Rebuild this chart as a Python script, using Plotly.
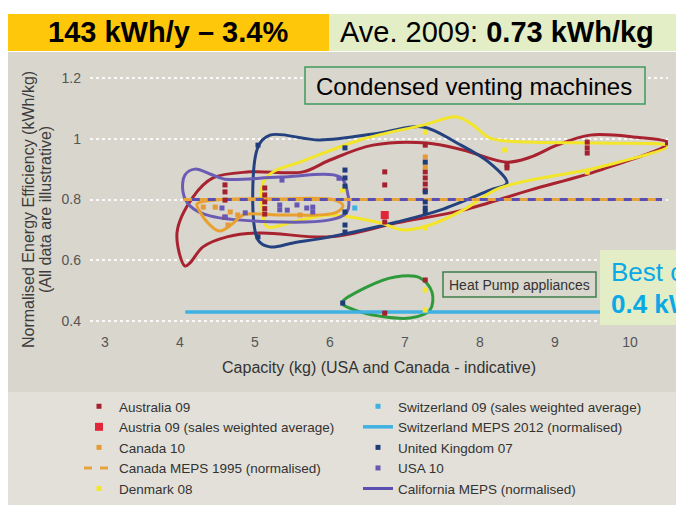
import plotly.graph_objects as go

# ---------------- data ----------------
# scatter points: capacity (kg) vs normalised energy efficiency (kWh/kg)
aus_x = [4.6, 4.6, 4.6, 4.6, 5.13, 5.13, 5.13, 5.13, 5.13, 6.73, 6.73, 6.73,
         7.27, 7.27, 7.27, 7.27, 7.27, 8.36, 8.36, 9.43, 9.43, 9.43, 10.5, 6.73, 7.27]
aus_y = [0.848, 0.825, 0.798, 0.742, 0.838, 0.815, 0.792, 0.770, 0.752, 0.891, 0.848, 0.726,
         0.979, 0.891, 0.871, 0.851, 0.831, 0.914, 0.904, 0.989, 0.970, 0.953, 0.986, 0.426, 0.535]

austria_x = [6.73]
austria_y = [0.749]

can_x = [4.31, 4.47, 4.67, 4.77, 4.64, 5.6, 7.27, 7.27]
can_y = [0.775, 0.775, 0.759, 0.749, 0.716, 0.749, 0.940, 0.907]

den_x = [7.27, 8.33, 6.17, 7.27, 9.43, 7.27, 7.27]
den_y = [1.022, 0.963, 0.831, 0.706, 0.890, 0.502, 0.436]

swi_x = [6.33]
swi_y = [0.772]

uk_x = [5.04, 5.04, 6.2, 6.2, 6.2, 6.2, 6.2, 6.2, 6.2, 7.27, 7.27, 7.27, 7.27, 7.27, 6.17]
uk_y = [0.979, 0.677, 0.970, 0.897, 0.871, 0.844, 0.759, 0.716, 0.693,
        0.923, 0.825, 0.792, 0.772, 0.759, 0.459]

usa_x = [5.36, 5.33, 5.33, 5.43, 5.56, 5.69, 5.77, 5.77, 6.12, 4.56, 4.87, 4.6]
usa_y = [0.864, 0.782, 0.766, 0.765, 0.782, 0.772, 0.775, 0.759, 0.870, 0.772, 0.756, 0.742]

# MEPS reference lines
swiss_meps_x = [4.07, 10.45]
swiss_meps_y = [0.43, 0.43]
canada_meps_x = [4.05, 10.43]
canada_meps_y = [0.80, 0.80]
calif_meps_x = [4.05, 10.43]
calif_meps_y = [0.80, 0.80]

# illustrative envelopes drawn around each data group
red_env_x = [4.067, 3.96, 4.173, 4.44, 4.933, 5.64, 6.0, 6.573, 7.293, 7.773, 8.36, 8.667, 9.027,
             9.467, 10.04, 10.507, 9.6, 8.667, 7.773, 6.893, 6.0, 5.067, 4.627, 4.307, 4.133, 4.067]
red_env_y = [0.581, 0.690, 0.808, 0.871, 0.891, 0.891, 0.930, 0.979, 0.986, 0.963, 0.923, 0.939, 0.979,
             1.012, 1.006, 0.986, 0.897, 0.831, 0.765, 0.723, 0.677, 0.690, 0.677, 0.644, 0.591, 0.581]

blue_env_x = [5.04, 5.04, 5.2, 5.867, 6.667, 7.24, 7.693, 8.133, 8.36, 8.133, 7.467, 6.893,
              6.0, 5.507, 5.2, 5.04]
blue_env_y = [0.667, 0.973, 1.012, 0.996, 1.019, 1.039, 0.986, 0.920, 0.854, 0.831, 0.765, 0.726,
              0.677, 0.657, 0.644, 0.667]

yellow_env_x = [5.12, 5.107, 5.24, 5.6, 6.4, 7.24, 7.693, 7.907, 8.133, 8.667, 9.6, 10.507, 9.6,
                8.267, 7.773, 7.333, 6.973, 6.667, 6.0, 5.507, 5.173, 5.12]
yellow_env_y = [0.730, 0.854, 0.891, 0.923, 0.996, 1.045, 1.072, 1.045, 1.002, 0.989, 0.986, 0.976,
                0.907, 0.838, 0.765, 0.716, 0.700, 0.723, 0.749, 0.726, 0.709, 0.730]

purple_env_x = [4.067, 4.2, 4.4, 4.6, 5.333, 6.133, 6.227, 6.227, 6.0, 4.4, 4.133, 4.04, 4.067]
purple_env_y = [0.881, 0.900, 0.884, 0.867, 0.874, 0.874, 0.831, 0.759, 0.733, 0.746, 0.779, 0.825, 0.881]

orange_env_x = [4.227, 4.467, 5.333, 6.067, 6.173, 6.067, 5.333, 4.84, 4.693, 4.533, 4.4, 4.267, 4.227]
orange_env_y = [0.785, 0.798, 0.802, 0.798, 0.779, 0.756, 0.749, 0.749, 0.719, 0.696, 0.716, 0.759, 0.785]

green_env_x = [6.16, 6.467, 6.867, 7.2, 7.36, 7.333, 7.067, 6.667, 6.333, 6.16]
green_env_y = [0.459, 0.509, 0.545, 0.542, 0.495, 0.436, 0.410, 0.416, 0.436, 0.459]

x_ticks = [3, 4, 5, 6, 7, 8, 9, 10]
x_tick_labels = ["3", "4", "5", "6", "7", "8", "9", "10"]
y_ticks = [0.4, 0.6, 0.8, 1.0, 1.2]
y_tick_labels = ["0.4", "0.6", "0.8", "1", "1.2"]

# ---------------- layout helpers ----------------
# the page body has an 8px margin, so the figure is placed at (8, 8) on screen
OFF = 8
W, H = 684 - OFF, 511 - OFF
S_LEFT, S_TOP, S_RIGHT, S_BOTTOM = 90, 60, 668, 332   # plot area in screen pixels
ML, MT = S_LEFT - OFF, S_TOP - OFF
MR, MB = 684 - S_RIGHT, 511 - S_BOTTOM
PW, PH = S_RIGHT - S_LEFT, S_BOTTOM - S_TOP


def px(sx):
    return (sx - S_LEFT) / PW


def py(sy):
    return (S_BOTTOM - sy) / PH


FONT = "Liberation Sans, Arial, Helvetica, sans-serif"
BG = "#d9d6cd"

C_AUS = "#a3202e"
C_AUSTRIA = "#e2263a"
C_CAN = "#e59a35"
C_DEN = "#f3e62c"
C_SWI = "#3fb1e3"
C_UK = "#1f3c78"
C_USA = "#6758b4"
C_GREEN = "#2f9a3c"

fig = go.Figure()


def envelope(xs, ys, color):
    fig.add_trace(go.Scatter(x=xs, y=ys, mode="lines", line=dict(color=color, width=3, shape="spline", smoothing=1.0),
                             showlegend=False, hoverinfo="skip"))


envelope(red_env_x, red_env_y, "#a8222f")
envelope(blue_env_x, blue_env_y, "#24427f")
envelope(yellow_env_x, yellow_env_y, "#f2e52a")
envelope(purple_env_x, purple_env_y, "#6a5bb5")
envelope(orange_env_x, orange_env_y, "#e8a02e")
envelope(green_env_x, green_env_y, C_GREEN)

# reference lines
fig.add_trace(go.Scatter(x=calif_meps_x, y=calif_meps_y, mode="lines", name="California MEPS (normalised)",
                         line=dict(color="#5a4fb0", width=3), legend="legend2", legendrank=5))
fig.add_trace(go.Scatter(x=canada_meps_x, y=canada_meps_y, mode="lines", name="Canada MEPS 1995 (normalised)",
                         line=dict(color="#e8a43a", width=3, dash="8px,8px"), legend="legend", legendrank=4))
fig.add_trace(go.Scatter(x=swiss_meps_x, y=swiss_meps_y, mode="lines", name="Switzerland MEPS 2012 (normalised)",
                         line=dict(color=C_SWI, width=3.5), legend="legend2", legendrank=2))


def points(xs, ys, name, color, leg, rank, size=5, symbol="square"):
    fig.add_trace(go.Scatter(x=xs, y=ys, mode="markers", name=name, legend=leg, legendrank=rank,
                             marker=dict(color=color, size=size, symbol=symbol, line=dict(width=0))))


points(aus_x, aus_y, "Australia 09", C_AUS, "legend", 1)
points(can_x, can_y, "Canada 10", C_CAN, "legend", 3)
points(den_x, den_y, "Denmark 08", C_DEN, "legend", 5)
points(swi_x, swi_y, "Switzerland 09 (sales weighted average)", C_SWI, "legend2", 1)
points(uk_x, uk_y, "United Kingdom 07", C_UK, "legend2", 3)
points(usa_x, usa_y, "USA 10", C_USA, "legend2", 4)
points(austria_x, austria_y, "Austria 09 (sales weighted average)", C_AUSTRIA, "legend", 2, size=8)

shapes = [
    dict(type="rect", xref="paper", yref="paper", x0=px(6), x1=px(700), y0=py(505), y1=py(52),
         fillcolor=BG, line=dict(width=0), layer="below"),
    dict(type="rect", xref="paper", yref="paper", x0=px(6), x1=px(700), y0=py(505), y1=py(392),
         fillcolor="#e2e0d8", line=dict(width=0), layer="below"),
    dict(type="rect", xref="paper", yref="paper", x0=px(6), x1=px(329), y0=py(51), y1=py(14),
         fillcolor="#ffc70a", line=dict(width=0), layer="below"),
    dict(type="rect", xref="paper", yref="paper", x0=px(329), x1=px(700), y0=py(51), y1=py(14),
         fillcolor="#e3eec6", line=dict(width=0), layer="below"),
    dict(type="rect", xref="paper", yref="paper", x0=px(305), x1=px(645), y0=py(104), y1=py(67),
         fillcolor=BG, line=dict(color="#3f9a5c", width=1.5), layer="above"),
    dict(type="rect", xref="paper", yref="paper", x0=px(443), x1=px(596), y0=py(297), y1=py(272),
         fillcolor=BG, line=dict(color="#3d7f4a", width=1.5), layer="above"),
    dict(type="rect", xref="paper", yref="paper", x0=px(600), x1=px(700), y0=py(325), y1=py(250),
         fillcolor="#e3eec6", line=dict(width=0), layer="above"),
]

annotations = [
    dict(text="<b>143 kWh/y – 3.4%</b>", x=px(168), y=py(32), xanchor="center", yanchor="middle",
         font=dict(size=29, color="#000000", family=FONT)),
    dict(text="Ave. 2009: <b>0.73 kWh/kg</b>", x=px(338), y=py(32), xanchor="left", yanchor="middle",
         font=dict(size=29, color="#000000", family=FONT)),
    dict(text="Condensed venting machines", x=px(314), y=py(86), xanchor="left", yanchor="middle",
         font=dict(size=24, color="#000000", family=FONT)),
    dict(text="Heat Pump appliances", x=px(519), y=py(285), xanchor="center", yanchor="middle",
         font=dict(size=14, color="#333333", family=FONT)),
    dict(text="Best case", x=px(609), y=py(272), xanchor="left", yanchor="middle",
         font=dict(size=26, color="#0aa9e6", family=FONT)),
    dict(text="<b>0.4 kWh/kg</b>", x=px(609), y=py(304), xanchor="left", yanchor="middle",
         font=dict(size=26, color="#0aa9e6", family=FONT)),
    dict(text="Normalised Energy Efficiency (kWh/kg)", x=px(28), y=py(210), xanchor="center", yanchor="middle",
         textangle=-90, font=dict(size=16, color="#3c3c3c", family=FONT)),
    dict(text="(All data are illustrative)", x=px(45), y=py(210), xanchor="center", yanchor="middle",
         textangle=-90, font=dict(size=16, color="#3c3c3c", family=FONT)),
]
for a in annotations:
    a.update(xref="paper", yref="paper", showarrow=False)

LEG_FONT = dict(size=13.5, color="#333333", family=FONT)
leg_top = 1 - (391 - OFF) / H

fig.update_layout(
    width=W, height=H,
    margin=dict(l=ML, r=MR, t=MT, b=MB, autoexpand=False),
    paper_bgcolor="white", plot_bgcolor="rgba(0,0,0,0)",
    font=dict(family=FONT, color="#333333"),
    shapes=shapes, annotations=annotations,
    showlegend=True,
    legend=dict(orientation="v", xref="container", yref="container", x=(79 - OFF) / W, y=leg_top,
                xanchor="left", yanchor="top", font=LEG_FONT, bgcolor="rgba(0,0,0,0)",
                traceorder="normal", tracegroupgap=0),
    legend2=dict(orientation="v", xref="container", yref="container", x=(358 - OFF) / W, y=leg_top,
                 xanchor="left", yanchor="top", font=LEG_FONT, bgcolor="rgba(0,0,0,0)",
                 traceorder="normal", tracegroupgap=0),
    xaxis=dict(range=[2.8, 10.507], tickvals=x_ticks, ticktext=x_tick_labels, showgrid=False,
               zeroline=False, showline=False, ticks="", fixedrange=True,
               tickfont=dict(size=14, color="#555555", family=FONT),
               title=dict(text="Capacity (kg) (USA and Canada - indicative)", standoff=12,
                          font=dict(size=16, color="#333333", family=FONT))),
    yaxis=dict(range=[0.3638, 1.2593], tickvals=y_ticks, ticktext=y_tick_labels, showgrid=True,
               gridcolor="rgba(255,255,255,0.85)", griddash="dot", gridwidth=2,
               zeroline=False, showline=False, ticks="", ticklabelstandoff=8, fixedrange=True,
               tickfont=dict(size=14, color="#555555", family=FONT)),
)

fig.write_html("out.html")
